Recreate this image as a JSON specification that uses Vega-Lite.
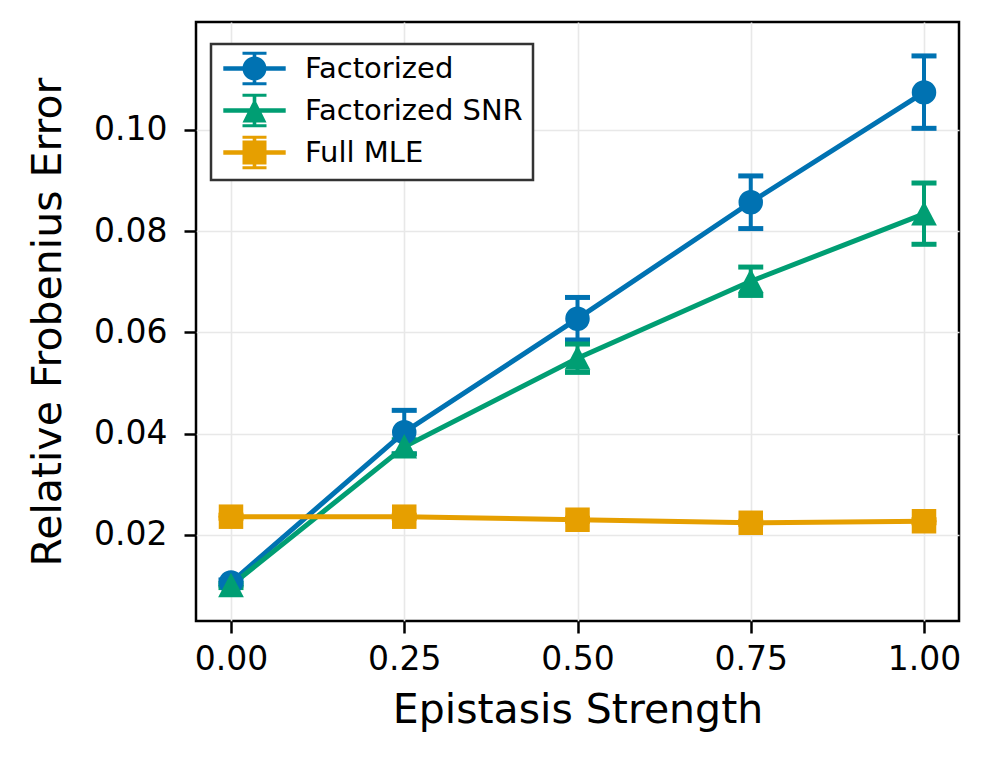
{
  "$schema": "https://vega.github.io/schema/vega-lite/v6.json",
  "width": 763,
  "height": 599,
  "autosize": {"type": "none"},
  "padding": {"left": 196, "top": 22, "right": 36, "bottom": 150},
  "background": "white",
  "config": {
    "font": "DejaVu Sans",
    "view": {"stroke": "black", "strokeWidth": 2.5},
    "axis": {
      "labelFont": "DejaVu Sans",
      "labelFontSize": 33,
      "labelColor": "black",
      "titleFont": "DejaVu Sans",
      "titleFontSize": 41,
      "titleFontWeight": "normal",
      "titleColor": "black",
      "tickColor": "black",
      "tickWidth": 2.5,
      "tickSize": 12,
      "domain": false,
      "gridColor": "#e8e8e8",
      "gridWidth": 1.6
    }
  },
  "data": {
    "values": [
      {"method": "Factorized", "x": 0.0, "y": 0.0106, "lo": 0.0101, "hi": 0.0111},
      {"method": "Factorized", "x": 0.25, "y": 0.0403, "lo": 0.0360, "hi": 0.0446},
      {"method": "Factorized", "x": 0.5, "y": 0.0627, "lo": 0.0585, "hi": 0.0669},
      {"method": "Factorized", "x": 0.75, "y": 0.0857, "lo": 0.0805, "hi": 0.0909},
      {"method": "Factorized", "x": 1.0, "y": 0.1074, "lo": 0.1003, "hi": 0.1146},
      {"method": "Factorized SNR", "x": 0.0, "y": 0.0100, "lo": 0.0096, "hi": 0.0104},
      {"method": "Factorized SNR", "x": 0.25, "y": 0.0374, "lo": 0.0360, "hi": 0.0388},
      {"method": "Factorized SNR", "x": 0.5, "y": 0.0549, "lo": 0.0521, "hi": 0.0577},
      {"method": "Factorized SNR", "x": 0.75, "y": 0.0701, "lo": 0.0673, "hi": 0.0729},
      {"method": "Factorized SNR", "x": 1.0, "y": 0.0834, "lo": 0.0774, "hi": 0.0895},
      {"method": "Full MLE", "x": 0.0, "y": 0.0236, "lo": 0.0233, "hi": 0.0239},
      {"method": "Full MLE", "x": 0.25, "y": 0.0236, "lo": 0.0233, "hi": 0.0239},
      {"method": "Full MLE", "x": 0.5, "y": 0.0230, "lo": 0.0227, "hi": 0.0233},
      {"method": "Full MLE", "x": 0.75, "y": 0.0224, "lo": 0.0221, "hi": 0.0227},
      {"method": "Full MLE", "x": 1.0, "y": 0.0227, "lo": 0.0224, "hi": 0.0230}
    ]
  },
  "encoding": {
    "x": {
      "field": "x",
      "type": "quantitative",
      "scale": {"domain": [-0.0505, 1.0505], "nice": false, "zero": false},
      "axis": {
        "title": "Epistasis Strength",
        "values": [0, 0.25, 0.5, 0.75, 1],
        "format": ".2f",
        "labelPadding": 10,
        "titlePadding": 14
      }
    },
    "color": {
      "field": "method",
      "type": "nominal",
      "scale": {
        "domain": ["Factorized", "Factorized SNR", "Full MLE"],
        "range": ["#0072B2", "#009E73", "#E69F00"]
      },
      "legend": {
        "title": null,
        "orient": "none",
        "legendX": 15,
        "legendY": 22,
        "fillColor": "white",
        "strokeColor": "#333333",
        "cornerRadius": 0,
        "padding": 10,
        "symbolSize": 576,
        "symbolOffset": 19,
        "labelOffset": 36,
        "labelLimit": 0,
        "labelFont": "DejaVu Sans",
        "labelFontSize": 29,
        "labelColor": "black",
        "rowPadding": 7,
        "symbolStrokeWidth": 0,
        "symbolOpacity": 1,
        "encode": {
          "legend": {
            "update": {
              "strokeWidth": {"value": 2.5}
            }
          }
        }
      }
    }
  },
  "layer": [
    {
      "mark": {"type": "rule", "strokeWidth": 4},
      "encoding": {
        "y": {
          "field": "lo",
          "type": "quantitative",
          "scale": {"domain": [0.003, 0.1213], "nice": false, "zero": false},
          "axis": {
            "title": "Relative Frobenius Error",
            "values": [0.02, 0.04, 0.06, 0.08, 0.1],
            "format": ".2f",
            "labelPadding": 17,
            "titlePadding": 24
          }
        },
        "y2": {"field": "hi"}
      }
    },
    {
      "mark": {"type": "tick", "size": 25, "thickness": 5, "orient": "horizontal", "opacity": 1},
      "encoding": {"y": {"field": "lo", "type": "quantitative"}}
    },
    {
      "mark": {"type": "tick", "size": 25, "thickness": 5, "orient": "horizontal", "opacity": 1},
      "encoding": {"y": {"field": "hi", "type": "quantitative"}}
    },
    {
      "mark": {"type": "line", "strokeWidth": 5},
      "encoding": {"y": {"field": "y", "type": "quantitative"}}
    },
    {
      "transform": [{"filter": "datum.method === 'Factorized'"}],
      "mark": {"type": "point", "filled": true, "opacity": 1, "size": 600, "shape": "circle"},
      "encoding": {"y": {"field": "y", "type": "quantitative"}}
    },
    {
      "transform": [{"filter": "datum.method === 'Factorized SNR'"}],
      "mark": {"type": "point", "filled": true, "opacity": 1, "size": 600, "shape": "M0,-1.05L1.05,0.95H-1.05Z"},
      "encoding": {"y": {"field": "y", "type": "quantitative"}}
    },
    {
      "transform": [{"filter": "datum.method === 'Full MLE'"}],
      "mark": {"type": "point", "filled": true, "opacity": 1, "size": 600, "shape": "square"},
      "encoding": {"y": {"field": "y", "type": "quantitative"}}
    },
    {
      "transform": [{"filter": "datum.x > 5"}],
      "mark": {"type": "point", "filled": true, "opacity": 1, "size": 576},
      "encoding": {
        "y": {"field": "y", "type": "quantitative"},
        "shape": {
          "field": "method",
          "type": "nominal",
          "scale": {
            "domain": ["Factorized", "Factorized SNR", "Full MLE"],
            "range": [
              "M-2.6,-0.19H2.6V0.19H-2.6Z M1,0A1,1,0,1,1,-1,0A1,1,0,1,1,1,0Z M-0.15,-1.4H0.15V1.4H-0.15Z M-1,-1.4H1V-1.15H-1Z M-1,1.15H1V1.4H-1Z",
              "M-2.6,-0.19H2.6V0.19H-2.6Z M0,-1L1,1H-1Z M-0.15,-1.4H0.15V1.4H-0.15Z M-1,-1.4H1V-1.15H-1Z M-1,1.15H1V1.4H-1Z",
              "M-2.6,-0.19H2.6V0.19H-2.6Z M-1,-1H1V1H-1Z M-0.15,-1.4H0.15V1.4H-0.15Z M-1,-1.4H1V-1.15H-1Z M-1,1.15H1V1.4H-1Z"
            ]
          }
        }
      }
    }
  ]
}
